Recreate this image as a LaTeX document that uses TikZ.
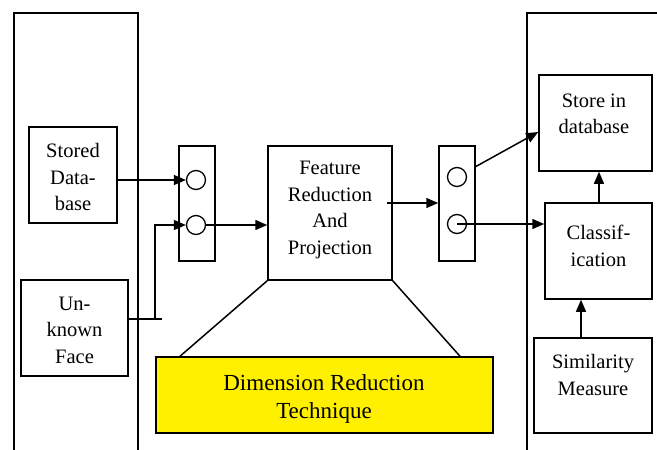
\documentclass[tikz,border=0pt]{standalone}
\usepackage{fontspec}
\setmainfont{Liberation Serif}
\newfontfamily\timesfont{Liberation Serif}
\usetikzlibrary{arrows.meta}
\begin{document}
\begin{tikzpicture}[x=1pt,y=-1pt,
  line width=1.5pt,
  box/.style={draw, rectangle, inner sep=0pt},
  txt/.style={align=center, font=\timesfont\fontsize{20.5}{26.5}\selectfont, inner sep=0pt},
  bigtxt/.style={align=center, font=\timesfont\fontsize{23}{28}\selectfont, inner sep=0pt},
  circ/.style={draw, circle, minimum size=19pt, inner sep=0pt, line width=1.3pt},
  arr/.style={-{Triangle[length=12pt,width=10pt]}},
  con/.style={line width=1.5pt}]
\useasboundingbox (0,0) rectangle (657,450);
% enclosures
\draw[con] (14,450) -- (14,13) -- (138,13) -- (138,450);
\draw[con] (657,13) -- (527,13) -- (527,450);
% boxes
\node[box, minimum width=88pt, minimum height=96pt] (sdb) at (73,175) {};
\node[txt] (sdbt) at (73,177) {Stored\\Data-\\base};
\node[box, minimum width=107pt, minimum height=96pt] (uf) at (74.5,328) {};
\node[txt] (uft) at (74.5,330) {Un-\\known\\Face};
\node[box, minimum width=36pt, minimum height=115pt] (m1) at (197,203.5) {};
\node[circ] (c1) at (196,180) {};
\node[circ] (c2) at (196,225) {};
\node[box, minimum width=124pt, minimum height=134pt] (fr) at (330,213) {};
\node[txt] (frt) at (330,210) {Feature\\Reduction\\And\\Projection};
\node[box, minimum width=36pt, minimum height=115pt] (m2) at (457,203.5) {};
\node[circ] (d1) at (457,177) {};
\node[circ] (d2) at (457,224) {};
\node[box, minimum width=113pt, minimum height=96pt] (st) at (595.5,123) {};
\node[txt] (stt) at (594,114) {Store in\\database};
\node[box, minimum width=107pt, minimum height=96pt] (cls) at (598.5,251) {};
\node[txt] (clst) at (598.5,246) {Classif-\\ication};
\node[box, minimum width=118pt, minimum height=95pt] (sim) at (593,385.5) {};
\node[txt] (simt) at (593,375) {Similarity\\Measure};
\node[box, fill={rgb,255:red,255;green,240;blue,0}, minimum width=337pt, minimum height=76pt] (dr) at (324.5,395) {};
\node[bigtxt] (drt) at (324,399) {Dimension Reduction\\Technique};
% connectors
\draw[con, arr] (sdb.east |- c1.west) -- (c1.west);
\coordinate (ue) at (162,319);
\coordinate (uj) at (155,319);
\draw[con] (uf.east |- ue) -- (ue);
\draw[con, arr] (uj) -- (uj |- c2.west) -- (c2.west);
\draw[con, arr] (c2.east) -- (fr.west |- c2.east);
\coordinate (fo) at (387,203);
\draw[con, arr] (fo) -- (m2.west |- fo);
\coordinate (m2o) at (475,167);
\draw[con, arr] (m2o) -- (st.west |- 0,132);
\draw[con, arr] (d2.center) -- (cls.west |- d2.center);
\draw[con, arr] (cls.north -| 599,0) -- (st.south -| 599,0);
\draw[con, arr] (sim.north -| 581,0) -- (cls.south -| 581,0);
\draw[con] (fr.south west) -- (dr.north -| 180,0);
\draw[con] (fr.south east) -- (dr.north -| 460,0);
\end{tikzpicture}
\end{document}
